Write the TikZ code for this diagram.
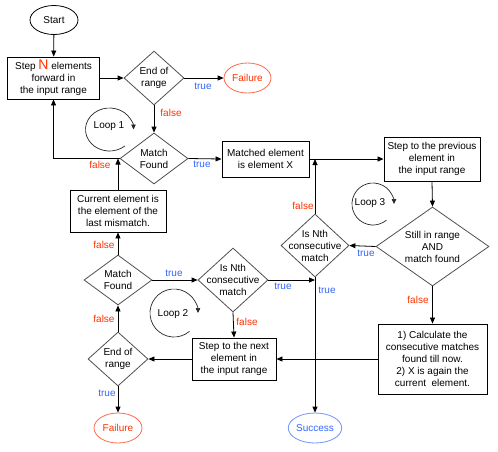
\documentclass[tikz,border=0pt]{standalone}
\usepackage{fontspec}
\setmainfont{Liberation Sans}
\usetikzlibrary{shapes.geometric,arrows.meta}
\definecolor{fred}{HTML}{FF3300}
\definecolor{fredl}{HTML}{FF6A4D}
\definecolor{tblue}{HTML}{3366FF}
\definecolor{tbluel}{HTML}{6F95FF}
\definecolor{dgray}{HTML}{505050}
\begin{document}
\begin{tikzpicture}[x=1pt,y=-1pt,
  font=\fontsize{10}{12}\selectfont,
  box/.style={draw=black, line width=0.9pt, align=center, inner sep=0pt},
  dia/.style={diamond, draw=dgray, line width=0.8pt, inner sep=0pt},
  term/.style={ellipse, draw=black, line width=0.8pt, inner sep=0pt},
  fterm/.style={ellipse, draw=fredl, line width=0.8pt, inner sep=0pt, text=fred},
  sterm/.style={ellipse, draw=tbluel, line width=0.8pt, inner sep=0pt, text=tblue},
  arr/.style={draw=black, line width=0.8pt, -{Triangle[length=6pt,width=5pt]}},
  looparr/.style={draw=black!85, line width=0.7pt, -{Triangle[length=5pt,width=4.5pt]}},
  tl/.style={text=tblue, inner sep=0pt},
  fl/.style={text=fred, inner sep=0pt},
  dl/.style={align=center, inner sep=0pt}
]
\useasboundingbox (0,0) rectangle (498,451);
\fill[white] (0,0) rectangle (498,451);

% terminals
\node[term, minimum width=48pt, minimum height=29pt] (start) at (54,20) {Start};
\node[fterm, minimum width=47pt, minimum height=30pt] (fail1) at (247.5,78) {Failure};
\node[fterm, minimum width=48pt, minimum height=30pt] (fail2) at (118,428) {Failure};
\node[sterm, minimum width=50pt, minimum height=30pt] (succ) at (315,428) {Success};

% boxes
\node[box, minimum width=92pt, minimum height=42pt] (step) at (53.5,78)
  {Step {\color{fred}\fontsize{14}{12}\selectfont N} elements\\forward in\\the input range};
\node[box, minimum width=96pt, minimum height=42pt] (cur) at (118,211)
  {Current element is\\the element of the\\last mismatch.};
\node[box, minimum width=87pt, minimum height=36pt] (match) at (265.5,159)
  {Matched element\\is element X};
\node[box, minimum width=96pt, minimum height=44pt] (prev) at (432,159)
  {Step to the previous\\element in\\the input range};
\node[box, minimum width=109pt, minimum height=70pt] (calc) at (432.5,359)
  {1) Calculate the\\consecutive matches\\found till now.\\2) X is again the\\current\ \ element.};
\node[box, minimum width=84pt, minimum height=42pt] (next) at (234,359)
  {Step to the next\\element in\\the input range};

% decisions
\node[dia, minimum width=60pt, minimum height=54pt] (end1) at (154,78) {};
\node[dl] at (end1) {End of\\range};
\node[dia, minimum width=68pt, minimum height=51pt] (mf1) at (154,158.5) {};
\node[dl] at (mf1) {Match\\Found};
\node[dia, minimum width=68pt, minimum height=63pt] (isn1) at (315,245.5) {};
\node[dl] at (isn1) {Is Nth\\consecutive\\match};
\node[dia, minimum width=113pt, minimum height=79pt] (still) at (432.5,246.5) {};
\node[dl] at (still) {Still in range\\AND\\match found};
\node[dia, minimum width=70pt, minimum height=64pt] (isn2) at (233,280) {};
\node[dl] at (isn2) {Is Nth\\consecutive\\match};
\node[dia, minimum width=68pt, minimum height=50pt] (mf2) at (118,280) {};
\node[dl] at (mf2) {Match\\Found};
\node[dia, minimum width=60pt, minimum height=54pt] (end2) at (118,359) {};
\node[dl] at (end2) {End of\\range};

% loops (screen angles, clockwise, arrow at 3 o'clock pointing down)
\coordinate (l1) at (109.5,129.5);
\coordinate (l2) at (174,313);
\coordinate (l3) at (373,204);
\draw[looparr] (l1) ++(-50:24pt and 21.5pt) arc[start angle=-50, end angle=-360, x radius=24pt, y radius=21.5pt];
\draw[looparr] (l2) ++(-50:24pt and 24pt) arc[start angle=-50, end angle=-360, x radius=24pt, y radius=24pt];
\draw[looparr] (l3) ++(-50:21pt and 21pt) arc[start angle=-50, end angle=-360, x radius=21pt, y radius=21pt];
\node (lt1) at (109,126) {Loop 1};
\node (lt2) at (173,314) {Loop 2};
\node (lt3) at (370,203) {Loop 3};

% connectors
\draw[arr] (start) -- (step);
\draw[arr] (step.east) -- (end1.west);
\draw[arr] (end1.east) -- (fail1.west);
\draw[arr] (end1.south) -- (mf1.north);
\draw[arr] (mf1.west) -| (step.south);
\draw[arr] (cur.north) -- (cur.north |- mf1.west);
\draw[arr] (mf1.east) -- (match.west);
\draw[arr] (match.east) -- (prev.west);
\draw[arr] (isn1.north) -- (isn1.north |- match.east);
\draw[arr] (prev.south) -- (still.north);
\draw[arr] (still.west) -- (isn1.east);
\draw[arr] (still.south) -- (calc.north);
\draw[arr] (calc.west) -- (next.east);
\draw[arr] (isn1.south) -- (succ.north);
\draw[arr] (isn2.east) -- (isn2.east -| isn1.south);
\draw[arr] (mf2.east) -- (isn2.west);
\draw[arr] (isn2.south) -- (next.north);
\draw[arr] (next.west) -- (end2.east);
\draw[arr] (end2.north) -- (mf2.south);
\draw[arr] (mf2.north) -- (cur.south);
\draw[arr] (end2.south) -- (fail2.north);

% labels
\node[tl] (a1) at (203,86) {true};
\node[fl] (a2) at (171,113) {false};
\node[fl] (a3) at (100,165) {false};
\node[tl] (a4) at (202,164.5) {true};
\node[fl] (a5) at (303,206) {false};
\node[tl] (a6) at (366,253) {true};
\node[fl] (a7) at (418,300) {false};
\node[tl] (a8) at (283,286) {true};
\node[tl] (a9) at (327,290) {true};
\node[tl] (a10) at (174,273) {true};
\node[fl] (a11) at (104,244.5) {false};
\node[fl] (a12) at (104,319) {false};
\node[fl] (a13) at (247,322) {false};
\node[tl] (a14) at (107,393) {true};
\end{tikzpicture}
\end{document}
